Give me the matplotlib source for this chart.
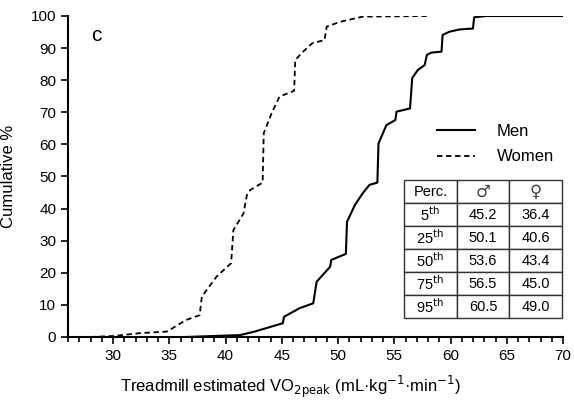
import matplotlib
matplotlib.use("Agg")
import matplotlib.pyplot as plt
from matplotlib.ticker import MultipleLocator

plt.rcParams['font.family'] = ['Liberation Sans', 'DejaVu Sans']

# cumulative curves
women_x = [28.0, 30.0, 32.4, 34.8, 36.5, 37.7, 37.9, 39.2, 40.5, 40.7, 41.6, 41.9, 42.2,
           43.3, 43.4, 44.1, 44.8, 46.1, 46.2, 46.9, 47.7, 48.8, 49.0, 50.2, 52.2, 58.0]
women_y = [0, 0.3, 1.2, 1.7, 5.3, 6.8, 12.6, 18.8, 23.0, 33.3, 38.5, 44.2, 45.8,
           48.1, 63.5, 69.7, 74.9, 76.7, 86.3, 88.9, 91.5, 92.5, 96.7, 98.2, 99.8, 100]

men_x = [36.5, 41.3, 42.5, 45.1, 45.2, 46.6, 47.8, 48.1, 49.3, 49.4, 50.7, 50.8, 51.5,
         52.2, 52.8, 53.5, 53.6, 54.3, 55.1, 55.2, 56.4, 56.6, 57.1, 57.7, 57.9, 58.3,
         59.2, 59.3, 59.9, 60.8, 62.0, 62.1, 63.2, 70.0]
men_y = [0, 0.6, 1.6, 4.3, 6.3, 9.0, 10.5, 17.2, 21.9, 24.0, 25.9, 35.9, 41.1,
         44.8, 47.4, 48.1, 60.3, 66.0, 67.6, 70.2, 71.2, 80.7, 83.2, 84.7, 87.9, 88.6,
         88.9, 94.1, 95.1, 95.8, 96.1, 99.6, 100, 100]

# percentile table
perc_labels = ['5$^{\\mathrm{th}}$', '25$^{\\mathrm{th}}$', '50$^{\\mathrm{th}}$',
               '75$^{\\mathrm{th}}$', '95$^{\\mathrm{th}}$']
men_perc = ['45.2', '50.1', '53.6', '56.5', '60.5']
women_perc = ['36.4', '40.6', '43.4', '45.0', '49.0']

fig = plt.figure(figsize=(5.74, 4.04), dpi=100)
ax = fig.add_axes([68/574, 1 - 337/404, 495/574, 321/404])

ax.plot(men_x, men_y, color='black', lw=1.5, label='Men')
ax.plot(women_x, women_y, color='black', lw=1.3, ls=(0, (3, 2)), label='Women')

ax.set_xlim(26, 70)
ax.set_ylim(0, 100)
ax.xaxis.set_minor_locator(MultipleLocator(1))
ax.yaxis.set_major_locator(MultipleLocator(10))
ax.set_xticks(range(30, 71, 5))
ax.tick_params(axis='both', which='major', direction='out', length=5, width=1.2, labelsize=11)
ax.tick_params(axis='x', which='minor', direction='out', length=3.5, width=1.2)
for s in ['top', 'right']:
    ax.spines[s].set_visible(False)
for s in ['left', 'bottom']:
    ax.spines[s].set_linewidth(1.5)
    ax.spines[s].set_zorder(5)

ax.set_ylabel('Cumulative %', fontsize=12)
ax.set_xlabel('Treadmill estimated VO$_{\\mathrm{2peak}}$ (mL·kg$^{-1}$·min$^{-1}$)', fontsize=12)
ax.xaxis.set_label_coords(0.45, -0.115)
ax.yaxis.set_label_coords(-0.105, 0.5)

ax.text(0.057, 0.94, 'c', transform=ax.transAxes, fontsize=15, va='center', ha='center')

ax.legend(loc='upper left', bbox_to_anchor=(0.745, 0.665), frameon=False, fontsize=12,
          handlelength=2.3, handletextpad=1.3, labelspacing=0.65, borderpad=0, borderaxespad=0)

rows = [['Perc.', '♂', '♀']]
for p, m, w in zip(perc_labels, men_perc, women_perc):
    rows.append([p, m, w])
tbl = ax.table(cellText=rows, cellLoc='center', bbox=[0.679, 0.059, 0.319, 0.430])
tbl.auto_set_font_size(False)
tbl.set_fontsize(10.5)
for (r, c), cell in tbl.get_celld().items():
    cell.set_linewidth(1.0)
    cell.set_edgecolor('#333333')
    if r == 0 and c > 0:
        cell.get_text().set_fontsize(12)
        cell.get_text().set_family(['DejaVu Sans'])
        cell.get_text().set_color('#444444')

fig.savefig('out.png', dpi=100)
